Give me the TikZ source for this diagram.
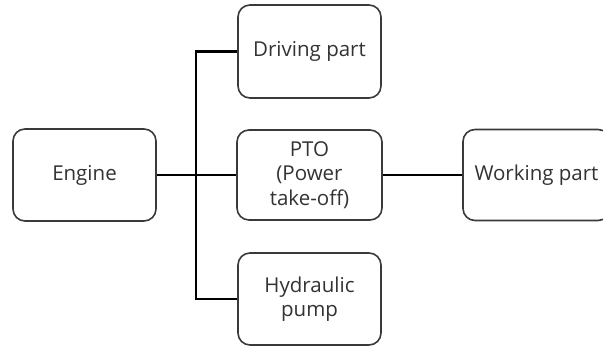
\documentclass[tikz,border=0pt]{standalone}
\usepackage{fontspec}
\setmainfont{Open Sans}
\definecolor{boxline}{HTML}{3A3A3A}
\definecolor{txt}{HTML}{333333}
\begin{document}
\begin{tikzpicture}[x=1pt,y=1pt,
  blk/.style={draw=boxline, line width=1.6pt, rounded corners=12pt, fill=white,
    text=txt, align=center, inner sep=0pt,
    font=\fontsize{20.5}{24.5}\selectfont},
  conn/.style={draw=black, line width=2.8pt}]
\useasboundingbox (0,0) rectangle (603,347);
\clip (0,0) rectangle (603,347);
\node[blk, minimum width=143pt, minimum height=92pt] (engine) at (84.5,172) {Engine};
\node[blk, minimum width=143pt, minimum height=93pt] (drive) at (309.5,295.5) {Driving part};
\node[blk, minimum width=145pt, minimum height=90pt] (pto) at (309.5,172) {PTO\\(Power\\take-off)};
\node[blk, minimum width=143pt, minimum height=92pt] (hyd) at (309.5,48) {Hydraulic\\pump};
\node[blk, minimum width=147pt, minimum height=91pt] (work) at (536.5,172) {Working part};
\coordinate (bus) at (196,172);
\draw[conn] (engine.east) -- (pto.west);
\draw[conn] (drive.west) -| (bus) |- (hyd.west);
\draw[conn] (pto.east) -- (work.west);
\end{tikzpicture}
\end{document}
